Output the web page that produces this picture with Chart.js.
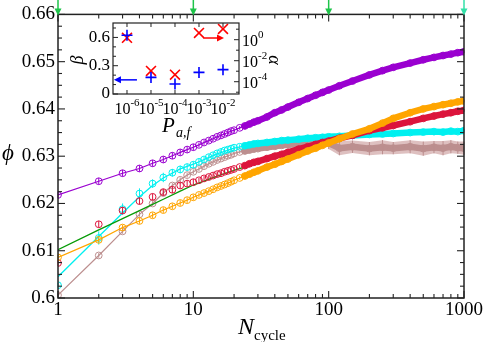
<!DOCTYPE html>
<html><head><meta charset="utf-8">
<script src="https://cdn.jsdelivr.net/npm/chart.js@4.4.1/dist/chart.umd.min.js"></script>
<style>
html,body{margin:0;padding:0;background:#fff;}
#wrap{position:relative;width:484px;height:342px;overflow:hidden;}
#main,#inset{position:absolute;left:0;top:0;}
</style></head><body>
<div id="wrap"><canvas id="main" width="484" height="342"></canvas><canvas id="inset" width="300" height="150"></canvas></div>
<script>
// ---------- main panel data ----------
const nCycle = [1,2,3,4,5,6,7,8,9,10,11,12,13,14,15,16,17,18,19,20,22,24,26,28,30,35,40,45,50,60,70,80,90,100,120,150,200,250,300,400,500,600,700,800,900,1000];
const phiPurple = [0.6218,0.6247,0.6264,0.6274,0.6285,0.6293,0.6301,0.6308,0.6314,0.6319,
  0.6324,0.6329,0.6333,0.6337,0.6341,0.6344,0.6347,0.6350,0.6353,0.6355,
  0.6360,0.6364,0.6368,0.6372,0.6375,0.6383,0.6392,0.6398,0.6404,0.6414,0.6422,0.6429,0.6435,
  0.6440,0.6449,0.6459,0.6472,0.6481,0.6488,0.6497,0.6504,0.6509,0.6513,0.6516,0.6519,0.6521];
const errPurple = [0.0007,0.0007,0.0007,0.0007,0.0007,0.0007,0.0007,0.0007,0.0007,0.0007,
  0.0005,0.0005,0.0005,0.0005,0.0005,0.0005,0.0005,0.0005,0.0005,0.0005,
  0.0004,0.0004,0.0004,0.0004,0.0004,0.0004,0.0004,0.0004,0.0004,0.0003,0.0003,0.0003,0.0003,
  0.0003,0.0003,0.0003,0.0003,0.0003,0.0003,0.0003,0.0003,0.0003,0.0003,0.0003,0.0003,0.0003];
const phiOrange = [0.6086,0.6123,0.6149,0.6163,0.6175,0.6186,0.6194,0.6201,0.6207,0.6213,
  0.6218,0.6222,0.6226,0.6230,0.6234,0.6237,0.6240,0.6243,0.6246,0.6249,
  0.6254,0.6258,0.6262,0.6266,0.6269,0.6277,0.6283,0.6289,0.6294,0.6303,0.6311,0.6317,0.6323,
  0.6328,0.6337,0.6347,0.6358,0.6370,0.6380,0.6392,0.6400,0.6405,0.6409,0.6412,0.6415,0.6417];
const errOrange = [0.0006,0.0006,0.0006,0.0006,0.0006,0.0006,0.0006,0.0006,0.0006,0.0006,
  0.0005,0.0005,0.0005,0.0005,0.0005,0.0005,0.0005,0.0005,0.0005,0.0005,
  0.0004,0.0004,0.0004,0.0004,0.0004,0.0004,0.0004,0.0004,0.0004,0.0003,0.0003,0.0003,0.0003,
  0.0003,0.0003,0.0003,0.0003,0.0003,0.0003,0.0003,0.0003,0.0003,0.0003,0.0003,0.0003,0.0003];
const phiCrimson = [0.6074,0.6156,0.6185,0.6205,0.6214,0.6224,0.6229,0.6238,0.6242,0.6245,
  0.6249,0.6253,0.6256,0.6259,0.6262,0.6264,0.6267,0.6269,0.6271,0.6273,
  0.6277,0.6280,0.6284,0.6287,0.6289,0.6295,0.6300,0.6304,0.6308,0.6315,0.6320,0.6325,0.6329,
  0.6332,0.6338,0.6344,0.6354,0.6360,0.6365,0.6373,0.6380,0.6385,0.6389,0.6392,0.6395,0.6397];
const errCrimson = [0.0006,0.0007,0.0007,0.0007,0.0007,0.0007,0.0007,0.0007,0.0007,0.0007,
  0.0005,0.0005,0.0005,0.0005,0.0005,0.0005,0.0005,0.0005,0.0005,0.0005,
  0.0004,0.0004,0.0004,0.0004,0.0004,0.0004,0.0004,0.0004,0.0004,0.0003,0.0003,0.0003,0.0003,
  0.0003,0.0003,0.0003,0.0003,0.0003,0.0003,0.0003,0.0003,0.0003,0.0003,0.0003,0.0003,0.0003];
const phiCyan = [0.6027,0.6127,0.6188,0.6221,0.6242,0.6255,0.6265,0.6272,0.6277,0.6282,
  0.6288,0.6293,0.6298,0.6302,0.6306,0.6309,0.6312,0.6314,0.6316,0.6318,
  0.6320,0.6322,0.6324,0.6326,0.6327,0.6329,0.6331,0.6333,0.6334,0.6336,0.6338,0.6339,0.6340,
  0.6341,0.6342,0.6344,0.6346,0.6347,0.6348,0.6350,0.6351,0.6352,0.6351,0.6353,0.6352,0.6354];
const errCyan = [0.0005,0.0014,0.0012,0.0011,0.0009,0.0010,0.0008,0.0008,0.0007,0.0007,
  0.0007,0.0006,0.0006,0.0006,0.0006,0.0006,0.0005,0.0005,0.0005,0.0005,
  0.0005,0.0005,0.0005,0.0004,0.0004,0.0004,0.0004,0.0004,0.0004,0.0004,0.0004,0.0004,0.0004,
  0.0004,0.0004,0.0004,0.0004,0.0004,0.0004,0.0004,0.0004,0.0004,0.0004,0.0004,0.0004,0.0004];
const phiRosy = [0.6006,0.6090,0.6141,0.6177,0.6200,0.6222,0.6238,0.6250,0.6260,0.6267,
  0.6273,0.6279,0.6284,0.6288,0.6292,0.6295,0.6298,0.6301,0.6303,0.6306,
  0.6309,0.6311,0.6313,0.6315,0.6316,0.6319,0.6321,0.6323,0.6324,0.6326,0.6328,0.6329,0.6330,
  0.6328,0.6317,0.6320,0.6316,0.6319,0.6317,0.6320,0.6316,0.6319,0.6317,0.6320,0.6318,0.6317];
const errRosy = [0.0004,0.0005,0.0005,0.0005,0.0005,0.0005,0.0005,0.0005,0.0005,0.0005,
  0.0005,0.0005,0.0005,0.0005,0.0005,0.0004,0.0004,0.0004,0.0004,0.0004,
  0.0004,0.0004,0.0004,0.0004,0.0004,0.0004,0.0004,0.0004,0.0004,0.0004,0.0004,0.0004,0.0004,
  0.0013,0.0015,0.0013,0.0014,0.0015,0.0013,0.0014,0.0015,0.0013,0.0015,0.0014,0.0013,0.0014];
// fit curves
const nFit = [1,2,3,4,5,6,8,10,15,20,30,50,70,100,150,200,300,500,700,1000];
const fitGreen = [0.6102,0.6144,0.6168,0.6185,0.6198,0.6209,0.6226,0.6239,0.6258,0.6270,0.6286,0.6306,0.6318,0.6331,0.6343,0.6352,0.6364,0.6379,0.6388,0.6396];
const fitCyan = [0.6045,0.6130,0.6180,0.6214,0.6238,0.6254,0.6273,0.6283,0.6305,0.6317,0.6327,0.6334,0.6338,0.6341,0.6344,0.6346,0.6348,0.6351,0.6352,0.6353];
const xTickLabels = [1,10,100,1000];
const yTickLabels = [0.6,0.61,0.62,0.63,0.64,0.65,0.66];
const topArrowN = [1,10,100,1000];

// ---------- inset data ----------
const pAF = [1e-6,1e-5,1e-4,1e-3,1e-2];
const betaVals = [0.623,0.176,0.106,0.229,0.258];
const alphaVals = [1.5,1.05e-3,4.7e-4,4.4,10.5];
const betaTicks = [0,0.3,0.6];
const pTickExp = [-6,-5,-4,-3,-2];
const alphaTickExp = [0,-2,-4];
const blueArrowP = [2.6e-6, 2.85e-7], blueArrowBeta = 0.15;
const redArrowP = [1.5e-3, 1.1e-2], redArrowAlpha = 1.45;

const C = {purple:'#9a00d0', orange:'#ffa500', crimson:'#dc143c', cyan:'#00f0f0', rosy:'#bc8f8f', green:'#079b07'};
const SERIF = '"Liberation Serif", "Times New Roman", serif';
const BAND_FROM = 24;
const pts = (xs, ys) => xs.map((x,i)=>({x, y: ys[i]}));

function markerDs(vals, errs, color, line, order){
  return {data: pts(nCycle, vals), errs, borderColor: color, borderWidth: 1.2, showLine: line,
    pointStyle:'circle', pointRadius:3.4, pointBorderWidth:1, pointBackgroundColor:'rgba(0,0,0,0)',
    pointBorderColor: color, fill:false, order};
}
function bandDs(vals, color, order){
  return {data: pts(nCycle, vals).filter(p=>p.x>=BAND_FROM), borderColor: color, borderWidth: 6.5,
    pointRadius:0, fill:false, borderCapStyle:'round', borderJoinStyle:'round', order};
}
function fitDs(vals, color, order){
  return {data: pts(nFit, vals), borderColor: color, borderWidth: 1.3, pointRadius:0, fill:false, order};
}

const errPlugin = {
  id:'errbars',
  afterDatasetDraw(chart, args){
    const ds = chart.data.datasets[args.index];
    if(!ds.errs) return;
    const ys = chart.scales[args.meta.yAxisID];
    const ctx = chart.ctx;
    ctx.save(); ctx.strokeStyle = ds.borderColor; ctx.lineWidth = 1;
    args.meta.data.forEach((el,i)=>{
      const v = ds.data[i].y, e = ds.errs[i];
      ctx.beginPath(); ctx.moveTo(el.x, ys.getPixelForValue(v+e)); ctx.lineTo(el.x, ys.getPixelForValue(v-e)); ctx.stroke();
    });
    ctx.restore();
  }
};

function seg(ctx,x1,y1,x2,y2){ctx.beginPath();ctx.moveTo(x1,y1);ctx.lineTo(x2,y2);ctx.stroke();}

const mainDeco = {
  id:'mainDeco',
  afterDraw(chart){
    const {ctx, chartArea:a, scales:{x:xs, y:ys}} = chart;
    ctx.save();
    ctx.strokeStyle='#222'; ctx.lineWidth=1.5;
    ctx.strokeRect(a.left,a.top,a.right-a.left,a.bottom-a.top);
    ctx.lineWidth=1.1;
    [1,10,100].forEach(d=>{ for(let k=1;k<=9;k++){ const px=xs.getPixelForValue(d*k); const L=k===1?7:4;
      seg(ctx,px,a.bottom,px,a.bottom-L); seg(ctx,px,a.top,px,a.top+L);} });
    { const px=xs.getPixelForValue(1000); seg(ctx,px,a.bottom,px,a.bottom-7); seg(ctx,px,a.top,px,a.top+7); }
    for(let i=0;i<=24;i++){ const v=0.6+i*0.0025; const py=ys.getPixelForValue(v); const L=(i%4===0)?7:4;
      seg(ctx,a.left,py,a.left+L,py); seg(ctx,a.right,py,a.right-L,py); }
    topArrowN.forEach((n,i)=>{
      const px=xs.getPixelForValue(n); const col = i===3 ? '#33e0a8' : '#1ec44a';
      ctx.strokeStyle=col; ctx.fillStyle=col; ctx.lineWidth=1.5;
      seg(ctx,px,0,px,a.top-4);
      ctx.beginPath(); ctx.moveTo(px-3.5,a.top-6); ctx.lineTo(px+3.5,a.top-6); ctx.lineTo(px,a.top+1); ctx.closePath(); ctx.fill();
    });
    ctx.fillStyle='#000';
    ctx.font='italic 23px '+SERIF; ctx.textAlign='center'; ctx.textBaseline='middle';
    ctx.fillText('\u03D5', 8, 154);
    ctx.textAlign='left'; ctx.textBaseline='alphabetic';
    ctx.font='italic 24px '+SERIF; ctx.fillText('N', 238, 334);
    ctx.font='15px '+SERIF; ctx.fillText('cycle', 254, 340);
    ctx.restore();
  }
};

const datasets = [
  markerDs(phiPurple, errPurple, C.purple, true, 1),
  bandDs(phiPurple, C.purple, 2),
  markerDs(phiOrange, errOrange, C.orange, true, 3),
  bandDs(phiOrange, C.orange, 4),
  markerDs(phiCrimson, errCrimson, C.crimson, false, 5),
  bandDs(phiCrimson, C.crimson, 6),
  fitDs(fitGreen, C.green, 7),
  fitDs(fitCyan, C.cyan, 8),
  markerDs(phiCyan, errCyan, C.cyan, false, 9),
  bandDs(phiCyan, C.cyan, 10),
  markerDs(phiRosy, errRosy, C.rosy, true, 11),
  bandDs(phiRosy, C.rosy, 12),
  {data: nCycle.map((n,i)=>({x:n, y: phiRosy[i]+errRosy[i]})).filter(p=>p.x>=100), borderWidth:0, borderColor:'rgba(0,0,0,0)', pointRadius:0, fill:false, order:13},
  {data: nCycle.map((n,i)=>({x:n, y: phiRosy[i]-errRosy[i]})).filter(p=>p.x>=100), borderWidth:0, borderColor:'rgba(0,0,0,0)', pointRadius:0, fill:'-1', backgroundColor:'rgba(200,150,150,0.6)', order:14}
];

new Chart(document.getElementById('main'), {
  type:'line',
  data:{datasets},
  options:{
    responsive:false, animation:false, devicePixelRatio:1,
    layout:{padding:{top:12,right:20,left:0,bottom:0}},
    plugins:{legend:{display:false}, tooltip:{enabled:false}},
    scales:{
      x:{type:'logarithmic', min:1, max:1000,
        grid:{display:false, drawTicks:false}, border:{display:false},
        afterBuildTicks:s=>{ s.ticks = xTickLabels.map(v=>({value:v, major:true})); },
        afterFit:s=>{ s.height = 44; },
        ticks:{autoSkip:false, maxRotation:0, padding:1, color:'#000', font:{family:SERIF, size:19}, callback:v=>String(v)}},
      y:{min:0.6, max:0.66,
        grid:{display:false, drawTicks:false}, border:{display:false},
        afterBuildTicks:s=>{ s.ticks = yTickLabels.map(v=>({value:v})); },
        afterFit:s=>{ s.width = 58; },
        ticks:{padding:3, color:'#000', font:{family:SERIF, size:19}, callback:v=>String(+(+v).toFixed(2))}}
    }
  },
  plugins:[errPlugin, mainDeco]
});

// ---------- inset ----------
function arrow(ctx,x1,y1,x2,y2,col){
  ctx.strokeStyle=col; ctx.fillStyle=col; ctx.lineWidth=1.5;
  const dir = Math.sign(x2-x1);
  seg(ctx,x1,y1,x2-dir*5,y2);
  ctx.beginPath(); ctx.moveTo(x2,y2); ctx.lineTo(x2-dir*7,y2-3.5); ctx.lineTo(x2-dir*7,y2+3.5); ctx.closePath(); ctx.fill();
}
const insetDeco = {
  id:'insetDeco',
  beforeDraw(chart){ const {ctx, chartArea:a}=chart; ctx.save(); ctx.fillStyle='#fff'; ctx.fillRect(a.left,a.top,a.right-a.left,a.bottom-a.top); ctx.restore(); },
  afterDraw(chart){
    const {ctx, chartArea:a, scales:{x:xs, yb, ya}} = chart;
    ctx.save();
    ctx.strokeStyle='#222'; ctx.lineWidth=1.2;
    ctx.strokeRect(a.left,a.top,a.right-a.left,a.bottom-a.top);
    ctx.lineWidth=1;
    pTickExp.forEach(e=>{ const px=xs.getPixelForValue(10**e); seg(ctx,px,a.bottom,px,a.bottom-4); seg(ctx,px,a.top,px,a.top+4); });
    for(let i=0;i<=7;i++){ const py=yb.getPixelForValue(i*0.1); const L=(i%3===0)?5:3; seg(ctx,a.left,py,a.left+L,py); }
    for(let e=-5;e<=1;e++){ const py=ya.getPixelForValue(10**e); const L=(e%2===0)?5:3; seg(ctx,a.right,py,a.right-L,py); }
    ctx.fillStyle='#000'; ctx.textBaseline='alphabetic'; ctx.textAlign='left';
    pTickExp.forEach(e=>{
      const px=xs.getPixelForValue(10**e);
      ctx.font='16px '+SERIF; const w1=ctx.measureText('10').width;
      ctx.font='11px '+SERIF; const sup='-'+Math.abs(e); const w2=ctx.measureText(sup).width;
      const x0=px-(w1+w2)/2;
      ctx.font='16px '+SERIF; ctx.fillText('10', x0, a.bottom+20);
      ctx.font='11px '+SERIF; ctx.fillText(sup, x0+w1, a.bottom+12);
    });
    alphaTickExp.forEach(e=>{
      const py=ya.getPixelForValue(10**e);
      ctx.font='16px '+SERIF; const w1=ctx.measureText('10').width;
      ctx.fillText('10', a.right+3, py+6);
      ctx.font='11px '+SERIF; ctx.fillText(e===0?'0':'-'+Math.abs(e), a.right+3+w1, py-2);
    });
    ctx.font='italic 18px '+SERIF; ctx.textAlign='center'; ctx.textBaseline='middle';
    ctx.save(); ctx.translate(78,60); ctx.rotate(-Math.PI/2); ctx.fillText('\u03B2',0,0); ctx.restore();
    ctx.save(); ctx.translate(274,60); ctx.rotate(Math.PI/2); ctx.fillText('\u03B1',0,0); ctx.restore();
    ctx.textAlign='left'; ctx.textBaseline='alphabetic';
    ctx.font='italic 21px '+SERIF; ctx.fillText('P', 162, 132);
    ctx.font='italic 14px '+SERIF; ctx.fillText('a,f', 176, 137);
    const by=yb.getPixelForValue(blueArrowBeta);
    arrow(ctx, xs.getPixelForValue(blueArrowP[0]), by, xs.getPixelForValue(blueArrowP[1]), by, '#0000ff');
    const ry=ya.getPixelForValue(redArrowAlpha);
    arrow(ctx, xs.getPixelForValue(redArrowP[0]), ry, xs.getPixelForValue(redArrowP[1]), ry, '#ff0000');
    ctx.restore();
  }
};

new Chart(document.getElementById('inset'), {
  type:'line',
  data:{datasets:[
    {data: pts(pAF, betaVals), yAxisID:'yb', showLine:false, pointStyle:'cross', pointRadius:5.5, pointBorderWidth:1.6, borderColor:'#0000ff', pointBorderColor:'#0000ff'},
    {data: pts(pAF, alphaVals), yAxisID:'ya', showLine:false, pointStyle:'crossRot', pointRadius:7, pointBorderWidth:1.6, borderColor:'#ff0000', pointBorderColor:'#ff0000'}
  ]},
  options:{
    responsive:false, animation:false, devicePixelRatio:1,
    layout:{padding:{top:23,right:61,left:0,bottom:56}},
    plugins:{legend:{display:false}, tooltip:{enabled:false}},
    scales:{
      x:{type:'logarithmic', display:false, min:10**-6.583, max:10**-1.333},
      yb:{type:'linear', position:'left', min:0, max:0.753,
        grid:{display:false, drawTicks:false}, border:{display:false},
        afterBuildTicks:s=>{ s.ticks = betaTicks.map(v=>({value:v})); },
        afterFit:s=>{ s.width = 113; },
        ticks:{padding:3, color:'#000', font:{family:SERIF, size:17}, callback:v=>String(+(+v).toFixed(1))}},
      ya:{type:'logarithmic', position:'right', display:false, min:10**-5.17, max:10**1.59}
    }
  },
  plugins:[insetDeco]
});
</script>
</body></html>
